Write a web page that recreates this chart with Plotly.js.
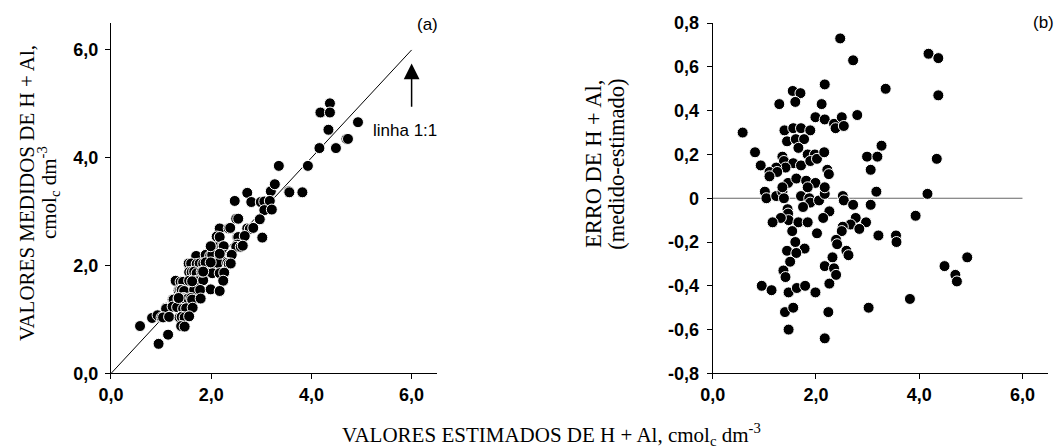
<!DOCTYPE html>
<html>
<head>
<meta charset="utf-8">
<script src="https://cdn.plot.ly/plotly-3.0.1.min.js"></script>
<style>html,body{margin:0;padding:0;background:#fff;}#chart{width:1056px;height:448px;}</style>
</head>
<body>
<div id="chart"></div>
<script>
// Estimated H + Al (x of both panels)
const estimado = [0.58,0.82,0.93,1.29,1.55,1.70,1.60,1.39,1.56,1.71,1.89,1.44,1.61,1.77,1.66,1.35,1.38,1.56,1.71,1.41,1.23,1.10,1.25,1.10,1.84,1.98,1.89,2.02,2.16,2.17,2.11,1.99,2.17,2.35,2.38,2.50,2.54,2.47,2.72,2.80,3.35,4.18,4.37,4.37,4.34,2.99,3.19,3.27,3.06,2.22,2.25,
1.01,1.04,1.23,1.35,1.38,1.46,1.71,1.87,1.89,2.06,2.17,2.52,2.54,3.17,4.16,2.72,3.06,1.45,1.75,1.46,1.47,1.32,1.16,1.66,1.84,2.26,2.14,2.02,1.54,2.77,2.67,2.97,2.84,2.52,2.50,3.21,3.55,3.56,3.93,2.39,2.41,1.60,1.78,1.44,1.62,2.59,2.63,1.50,2.32,2.17,2.35,2.39,1.37,1.41,2.26,0.95,1.14,1.47,1.63,1.79,1.99,3.02,3.82,4.49,4.93,4.70,4.73,1.40,1.56,2.24,1.47,2.17,1.62,1.81,1.99,1.84,2.17,1.35];
// Measured H + Al (panel a, y)
const medido = [0.88,1.03,1.08,1.72,2.04,2.18,2.04,1.70,1.88,2.03,2.20,1.70,1.88,2.04,1.89,1.54,1.55,1.72,1.86,1.55,1.37,1.22,1.37,1.20,2.04,2.18,2.06,2.20,2.37,2.69,2.54,2.36,2.53,2.69,2.70,2.87,2.87,3.20,3.35,3.18,3.85,4.84,5.01,4.84,4.52,3.18,3.38,3.51,3.19,2.35,2.36,
1.04,1.04,1.24,1.38,1.38,1.53,1.72,1.87,1.87,2.05,2.19,2.53,2.53,3.20,4.18,2.69,3.03,1.40,1.71,1.39,1.37,1.23,1.05,1.55,1.73,2.20,2.05,1.86,1.39,2.68,2.55,2.86,2.70,2.39,2.35,3.04,3.38,3.36,3.85,2.20,2.20,1.40,1.55,1.20,1.37,2.35,2.37,1.21,2.05,1.86,2.03,2.04,1.04,1.05,1.87,0.55,0.72,1.04,1.22,1.39,1.56,2.52,3.36,4.18,4.66,4.35,4.35,0.88,1.06,1.72,0.87,1.53,1.71,1.89,2.06,1.89,2.22,1.40];
// Error (measured - estimated) (panel b, y)
const erro = [0.30,0.21,0.15,0.43,0.49,0.48,0.44,0.31,0.32,0.32,0.31,0.26,0.27,0.27,0.23,0.19,0.17,0.16,0.15,0.14,0.14,0.12,0.12,0.10,0.20,0.20,0.17,0.18,0.21,0.52,0.43,0.37,0.36,0.34,0.32,0.37,0.33,0.73,0.63,0.38,0.50,0.66,0.64,0.47,0.18,0.19,0.19,0.24,0.13,0.13,0.11,
0.03,0.00,0.01,0.03,0.00,0.07,0.01,0.00,-0.02,-0.01,0.02,0.01,-0.01,0.03,0.02,-0.03,-0.03,-0.05,-0.04,-0.07,-0.10,-0.09,-0.11,-0.11,-0.11,-0.06,-0.09,-0.16,-0.15,-0.09,-0.12,-0.11,-0.14,-0.13,-0.15,-0.17,-0.17,-0.20,-0.08,-0.19,-0.21,-0.20,-0.23,-0.24,-0.25,-0.24,-0.26,-0.29,-0.27,-0.31,-0.32,-0.35,-0.33,-0.36,-0.39,-0.40,-0.42,-0.43,-0.41,-0.40,-0.43,-0.50,-0.46,-0.31,-0.27,-0.35,-0.38,-0.52,-0.50,-0.52,-0.60,-0.64,0.09,0.08,0.07,0.05,0.05,0.05];

// Reference lines
const linha11 = [0, 6];
const zeroX = [0, 6];
const zeroY = [0, 0];

// Tick values / labels
const ticksA = [0, 2, 4, 6];
const labelsA = ['0,0', '2,0', '4,0', '6,0'];
const ticksErro = [-0.8, -0.6, -0.4, -0.2, 0, 0.2, 0.4, 0.6, 0.8];
const labelsErro = ['-0,8', '-0,6', '-0,4', '-0,2', '0', '0,2', '0,4', '0,6', '0,8'];

const sans = 'Liberation Sans, Arial, sans-serif';
const serif = 'Liberation Serif, Times New Roman, serif';
const marker = {color: '#000', size: 11, line: {color: '#fff', width: 1}};

const traces = [
  {x: linha11, y: linha11, mode: 'lines', line: {color: '#000', width: 1}, xaxis: 'x', yaxis: 'y', hoverinfo: 'skip'},
  {x: estimado, y: medido, mode: 'markers', marker: marker, xaxis: 'x', yaxis: 'y', cliponaxis: false},
  {x: zeroX, y: zeroY, mode: 'lines', line: {color: '#666', width: 1.2}, xaxis: 'x2', yaxis: 'y2', hoverinfo: 'skip'},
  {x: estimado, y: erro, mode: 'markers', marker: marker, xaxis: 'x2', yaxis: 'y2', cliponaxis: false}
];

const tickfont = {family: sans, size: 18, color: '#000', weight: 'bold'};
function ax(extra) {
  return Object.assign({
    showline: true, linecolor: '#000', linewidth: 1,
    ticks: 'outside', ticklen: 5, tickwidth: 1, tickcolor: '#000',
    showgrid: false, zeroline: false, tickfont: tickfont, fixedrange: true
  }, extra);
}
const yDom = [0.1663, 0.9487];

const layout = {
  width: 1056, height: 448,
  margin: {l: 0, r: 0, t: 0, b: 0},
  paper_bgcolor: '#fff', plot_bgcolor: '#fff',
  showlegend: false,
  xaxis: ax({domain: [0.1051, 0.4135], range: [0, 6.5], tickvals: ticksA, ticktext: labelsA, anchor: 'y'}),
  yaxis: ax({domain: yDom, range: [0, 6.5], tickvals: ticksA, ticktext: labelsA, anchor: 'x', ticklabelstandoff: 3}),
  xaxis2: ax({domain: [0.6749, 0.9927], range: [0, 6.5], tickvals: ticksA, ticktext: labelsA, anchor: 'y2'}),
  yaxis2: ax({domain: yDom, range: [-0.8005, 0.8005], tickvals: ticksErro, ticktext: labelsErro, anchor: 'x2', ticklabelstandoff: 4}),
  annotations: [
    {xref: 'paper', yref: 'paper', x: 0.0256, y: 0.5692, text: 'VALORES MEDIDOS DE H + Al,', textangle: -90, showarrow: false, xanchor: 'center', yanchor: 'middle', font: {family: serif, size: 21, color: '#000'}},
    {xref: 'paper', yref: 'paper', x: 0.0465, y: 0.5692, text: 'cmol<sub>c</sub> dm<sup>-3</sup>', textangle: -90, showarrow: false, xanchor: 'center', yanchor: 'middle', font: {family: serif, size: 21, color: '#000'}},
    {xref: 'paper', yref: 'paper', x: 0.5616, y: 0.6339, text: 'ERRO DE H + Al,', textangle: -90, showarrow: false, xanchor: 'center', yanchor: 'middle', font: {family: serif, size: 22.5, color: '#000'}},
    {xref: 'paper', yref: 'paper', x: 0.5830, y: 0.6339, text: '(medido-estimado)', textangle: -90, showarrow: false, xanchor: 'center', yanchor: 'middle', font: {family: serif, size: 22.5, color: '#000'}},
    {xref: 'paper', yref: 'paper', x: 0.5218, y: 0.0295, text: 'VALORES ESTIMADOS DE H + Al, cmol<sub>c</sub> dm<sup>-3</sup>', showarrow: false, xanchor: 'center', yanchor: 'middle', font: {family: serif, size: 21, color: '#000'}},
    {xref: 'paper', yref: 'paper', x: 0.4044, y: 0.9453, text: '(a)', showarrow: false, xanchor: 'center', yanchor: 'middle', font: {family: sans, size: 17, color: '#000'}},
    {xref: 'paper', yref: 'paper', x: 0.9886, y: 0.9487, text: '(b)', showarrow: false, xanchor: 'center', yanchor: 'middle', font: {family: sans, size: 17, color: '#000'}},
    {xref: 'paper', yref: 'paper', x: 0.3835, y: 0.7076, text: 'linha 1:1', showarrow: false, xanchor: 'center', yanchor: 'middle', font: {family: sans, size: 17, color: '#000'}},
    {xref: 'x', yref: 'y', x: 6, y: 5.75, axref: 'x', ayref: 'y', ax: 6, ay: 4.92, text: '', showarrow: true, arrowhead: 2, arrowsize: 2.1, arrowwidth: 1.5, arrowcolor: '#000'}
  ]
};

Plotly.newPlot('chart', traces, layout, {displayModeBar: false, staticPlot: true});
</script>
</body>
</html>
